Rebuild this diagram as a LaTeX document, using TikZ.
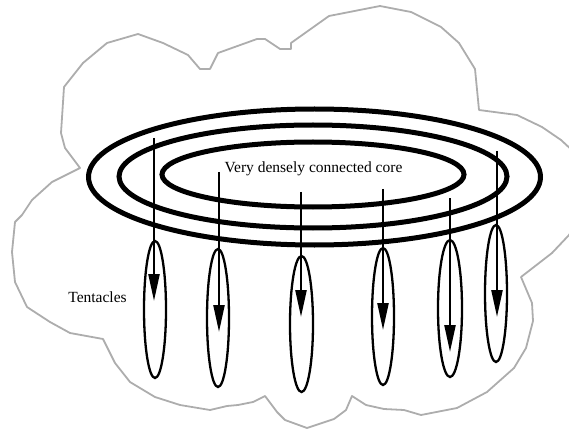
\documentclass[tikz,border=0pt]{standalone}
\usepackage{fontspec}
\setmainfont{Liberation Serif}
\usetikzlibrary{shapes.geometric,arrows.meta}

\tikzset{
  cloudline/.style={draw=black!32, line width=1.8pt, line join=round},
  ring/.style={ellipse, draw, line width=5pt, inner sep=0pt, outer sep=0pt},
  tentacle/.style={ellipse, draw, line width=2.3pt, inner sep=0pt, outer sep=0pt,
                   minimum width=22pt, minimum height=137pt},
  flow/.style={line width=2.3pt, -{Triangle[length=27pt,width=11pt]}},
  label/.style={font=\fontsize{15.5}{18}\selectfont, inner sep=0pt}
}

\begin{document}
\begin{tikzpicture}[x=1pt,y=-1pt]
\useasboundingbox (0,0) rectangle (569,430);
\clip (0,0) rectangle (569,430);

% surrounding cloud
\draw[cloudline] (107,43) -- (138,34) -- (163,43) -- (188,55) -- (200,69) -- (210,69)
  -- (218,53) -- (257,39) -- (265,39) -- (280,49) -- (291,49) -- (291,43) -- (329,16)
  -- (380,6) -- (411,12) -- (441,27) -- (459,43) -- (475,69) -- (479,110) -- (517,115)
  -- (542,127) -- (561,140) -- (574,152) -- (579,192) -- (572,230) -- (569,235)
  -- (552,253) -- (521,277) -- (532,303) -- (533,321) -- (526,348) -- (514,368)
  -- (487,392) -- (457,408) -- (421,415) -- (404,410) -- (384,409) -- (366,405)
  -- (352,396) -- (346,410) -- (334,419) -- (307,428) -- (285,420) -- (277,412)
  -- (265,396) -- (253,402) -- (238,405) -- (227,406) -- (210,410) -- (180,405)
  -- (155,397) -- (130,382) -- (115,363) -- (103,339) -- (70,333) -- (50,322)
  -- (27,307) -- (15,282) -- (12,252) -- (15,222) -- (22,215) -- (32,200) -- (52,182)
  -- (80,168) -- (65,148) -- (61,133) -- (64,87) -- (83,63) -- cycle;

% concentric core rings
\node[ring, minimum width=452pt, minimum height=136pt] (outer)  at (314.5,177) {};
\node[ring, minimum width=388pt, minimum height=103pt] (middle) at (313,176.5) {};
\node[ring, minimum width=302pt, minimum height=65pt]  (inner)  at (313,174.5) {};

\node[label, anchor=base] (core) at (313.5,173) {Very densely connected core};
\node[label, anchor=base] (tent) at (97.5,302) {Tentacles};

% tentacles
\node[tentacle] (t1) at (155,309.5) {};
\node[tentacle, minimum height=138pt] (t2) at (218,318) {};
\node[tentacle, minimum width=23pt, minimum height=136pt] (t3) at (301.5,324) {};
\node[tentacle] (t4) at (383,316.5) {};
\node[tentacle, minimum width=24pt] (t5) at (450,308.5) {};
\node[tentacle] (t6) at (496,293.5) {};

% flow from the core into each tentacle
\coordinate (s1) at (154,138); \coordinate (e1) at (154,301);
\coordinate (s2) at (219,172); \coordinate (e2) at (219,332);
\coordinate (s3) at (301,192); \coordinate (e3) at (301,317);
\coordinate (s4) at (383,189); \coordinate (e4) at (383,330);
\coordinate (s5) at (450,198); \coordinate (e5) at (450,352);
\coordinate (s6) at (497,151); \coordinate (e6) at (497,317);
\foreach \i in {1,...,6} { \draw[flow] (s\i) -- (e\i); }
\end{tikzpicture}
\end{document}
